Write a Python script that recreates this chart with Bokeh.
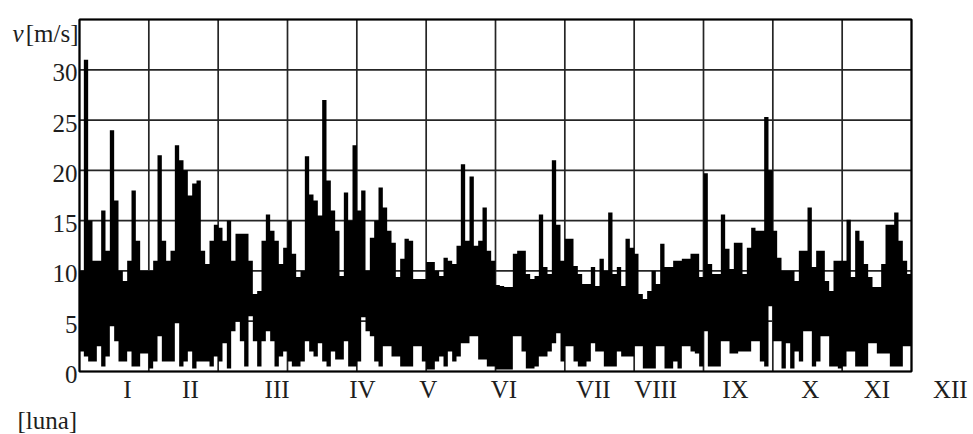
import numpy as np
from bokeh.plotting import figure
from bokeh.models import Range1d
from bokeh.core.properties import value
from bokeh.embed import file_html
from bokeh.resources import INLINE

# ---- data (wind speed envelope; 16 bins per month) ----
bins_per_month = 16
v_high = [
    10, 31, 15, 11, 11, 16, 12, 24, 17, 10, 9, 11, 18, 13, 10, 10, 10, 11, 21.5, 13, 11, 12, 22.5, 21, 20, 17.5, 18.7, 19,
    12, 10.7, 13, 14.6, 14.3, 13, 15, 11, 13.7, 13.7, 13.7, 11, 7.7, 8, 13, 15.6, 14, 13, 10.7, 12.3, 15, 11.7, 9.4, 10, 21.4, 17.6, 17,
    15.5, 27, 19, 16, 14, 9.5, 17.8, 15, 22.5, 16, 18, 10, 13.3, 15, 18.3, 16.3, 14, 12.8, 9.4, 11.2, 13.2, 13, 9.2, 9.2, 9.2, 10.9, 10.9, 10,
    9.5, 11.3, 11, 10.7, 12.5, 20.6, 13, 19.4, 12.5, 13, 16.3, 12, 11, 8.6, 8.5, 8.4, 8.4, 11.7, 12, 12, 9.7, 9.2, 9.5, 15.6, 10.4, 9.7, 21,
    14.6, 11, 13.2, 13.2, 10.5, 9.7, 8.7, 8.7, 10.4, 8.5, 11.2, 10, 15.8, 9.7, 10.4, 8.5, 13.2, 12.3, 11.7, 7.7, 7.2, 8, 10, 8.7, 12.7, 10.4, 10.4, 11,
    11, 11.2, 11.2, 11.7, 11.7, 9.4, 19.7, 10.7, 9.7, 9.7, 15.6, 12.2, 10.2, 12.8, 12.8, 9.7, 12.3, 14.3, 14, 14, 25.3, 20, 14, 11.3, 10, 10, 10,
    9, 12, 12, 16.3, 10.4, 12, 12, 9, 8, 11, 11, 11, 15.1, 9.4, 14, 13, 10.7, 9.4, 8.4, 8.4, 10.7, 14.6, 14.6, 15.8, 13, 11, 9.7,
]
v_low = [
    2, 1.5, 1, 1, 2.5, 0.5, 1.5, 4.5, 3, 1, 1, 2, 0.5, 0.5, 1.8, 1.8, 0.3, 1, 3.5, 1, 1, 1, 4.8, 0.5, 1, 2, 0.3, 1,
    1, 1, 0.5, 1.5, 1, 2.8, 0.3, 4, 5, 3, 0.5, 5.5, 3, 0.5, 3, 4, 3, 0.5, 1.5, 2, 1, 0.5, 0.5, 1, 3, 2, 1.5,
    2.8, 1, 0.5, 2, 1.2, 1.2, 3, 0.5, 0.5, 1, 5.4, 4, 3.5, 1, 0.5, 2.5, 2.5, 1.5, 1.5, 0.5, 0.5, 0.5, 2.5, 2.5, 1, 0.2, 0.2, 1,
    1.5, 0.5, 2, 1, 1.5, 2.8, 2.8, 3.5, 3.5, 1.2, 1.2, 0.5, 0.5, 0.2, 0.2, 0.2, 0.2, 3.5, 3.5, 2, 0.3, 0.3, 0.5, 1.5, 1.5, 2, 2.8,
    3.8, 1, 2.5, 2.5, 1, 0.5, 0.5, 1, 2.8, 2, 2, 0.5, 0.5, 0.5, 2, 1.5, 1.5, 1.5, 2.5, 2.5, 0.3, 0.3, 0.3, 2.5, 2.5, 0.3, 0.3, 1,
    0.3, 2.5, 2.5, 2, 1.8, 0.5, 4, 0.5, 0.5, 0.5, 3, 3, 1.8, 1.8, 2, 2, 2, 3, 3, 1, 0.5, 6.5, 3, 3, 0.3, 2.8, 0.3,
    2, 1, 4, 4, 0.5, 1, 3.5, 3.5, 0.5, 0.5, 0.3, 0.5, 2, 2, 0.5, 0.5, 0.5, 2.8, 2.8, 1.8, 1.8, 1.8, 0.5, 0.5, 0.5, 2.5, 2.5,
]
month_labels = ["I", "II", "III", "IV", "V", "VI", "VII", "VIII", "IX", "X", "XI", "XII"]
month_label_pos = [0.69, 1.60, 2.85, 4.08, 5.03, 6.12, 7.41, 8.31, 9.46, 10.54, 11.50, 12.56]
y_ticks = [0, 5, 10, 15, 20, 25, 30]
y_grid = [0, 5, 10, 15, 20, 25, 30, 35]
month_bounds = list(range(13))

# ---- layout (pixels of the plotting box inside the 973x434 canvas) ----
W, H = 973, 434
FL, FR, FT, FB = 79, 911, 19, 371
X0, X1 = month_bounds[0], month_bounds[-1]
Y0, Y1 = y_grid[0], y_grid[-1]
sx = (FR - FL) / (X1 - X0)
sy = (FB - FT) / (Y1 - Y0)
x_range = Range1d(X0 - FL / sx, X1 + (W - FR) / sx)
y_range = Range1d(Y0 - (H - FB) / sy, Y1 + FT / sy)

FONT = value("Liberation Serif")
FS = value("25px")
TXT = "#1e1e1e"

p = figure(width=W, height=H, x_range=x_range, y_range=y_range,
           output_backend="svg", toolbar_location=None,
           x_axis_location=None, y_axis_location=None, min_border=0)
p.outline_line_color = None
p.background_fill_color = "white"
p.border_fill_color = "white"
p.xgrid.visible = False
p.ygrid.visible = False

# grid lines
p.segment(x0=month_bounds, y0=[Y0] * len(month_bounds), x1=month_bounds, y1=[Y1] * len(month_bounds),
          line_color="#252525", line_width=1.7)
p.segment(x0=[X0] * len(y_grid), y0=y_grid, x1=[X1] * len(y_grid), y1=y_grid,
          line_color="#252525", line_width=1.7)

# data
n = len(v_high)
edges = np.arange(n + 1) / bins_per_month
lo = list(v_low) + [v_low[-1]]
hi = list(v_high) + [v_high[-1]]
p.varea_step(x=edges, y1=lo, y2=hi, step_mode="after", fill_color="black")

# box
p.quad(left=[X0], right=[X1], bottom=[Y0], top=[Y1], fill_color=None, line_color="black", line_width=2)

# y tick labels
p.text(x=[X0] * len(y_ticks), y=y_ticks, text=[str(t) for t in y_ticks], x_offset=-2, y_offset=3,
       text_align="right", text_baseline="middle", text_font=FONT, text_font_size=FS, text_color=TXT)

# month labels
p.text(x=month_label_pos, y=[Y0] * len(month_labels), text=month_labels, y_offset=18,
       text_align="center", text_baseline="middle", text_font=FONT, text_font_size=FS, text_color=TXT)

# axis titles
p.text(x=[X0], y=[Y1], text=["v"], x_offset=-67, y_offset=14, text_align="left", text_baseline="alphabetic",
       text_font=FONT, text_font_style="italic", text_font_size=FS, text_color=TXT)
p.text(x=[X0], y=[Y1], text=["[m/s]"], x_offset=-1, y_offset=14, text_align="right", text_baseline="alphabetic",
       text_font=FONT, text_font_size=FS, text_color=TXT)
p.text(x=[X0], y=[Y0], text=["[luna]"], x_offset=-62, y_offset=49, text_align="left", text_baseline="alphabetic",
       text_font=FONT, text_font_size=FS, text_color=TXT)

open("out.html", "w").write(file_html(p, INLINE))
